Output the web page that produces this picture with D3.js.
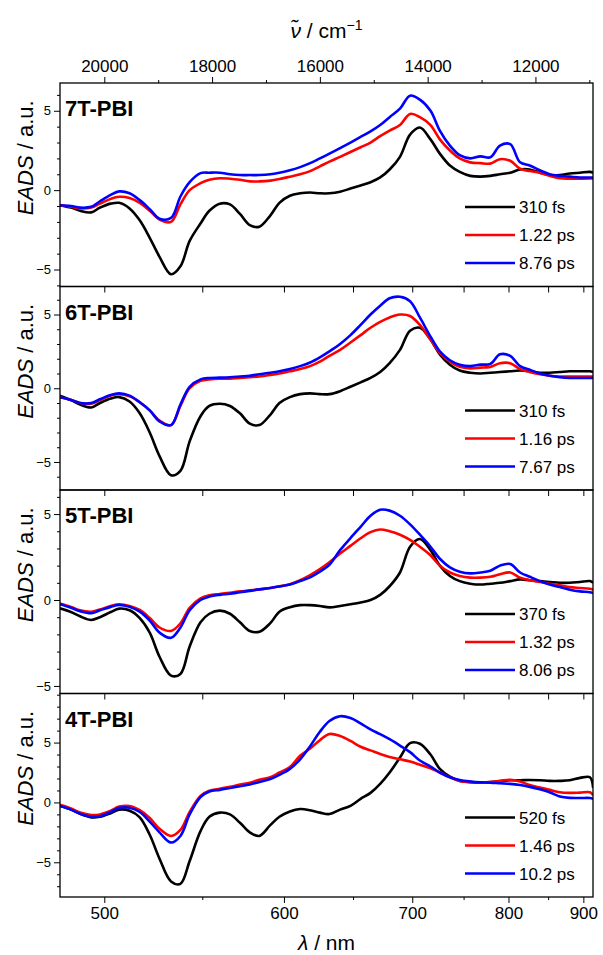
<!DOCTYPE html>
<html>
<head>
<meta charset="utf-8">
<script src="https://cdn.jsdelivr.net/npm/d3@7"></script>
<style>
body { margin: 0; background: #fff; }
text { font-family: "Liberation Sans", Arial, sans-serif; fill: #000; }
</style>
</head>
<body>
<script>
// wavelength grid (nm), shared by all spectra
var wavelength = [480, 485, 489, 494, 498, 503, 507, 512, 517, 522, 527, 533, 538, 543, 549, 554, 560, 566, 572, 578,
  584, 591, 597, 604, 611, 618, 625, 632, 640, 648, 656, 664, 672, 680, 689, 698, 707, 717, 726, 736,
  746, 757, 768, 779, 790, 802, 814, 826, 839, 852, 866, 880, 895, 910, 915];

var panelNames = ["7T-PBI", "6T-PBI", "5T-PBI", "4T-PBI"];
var lifetimes = [
  ["310 fs", "1.22 ps", "8.76 ps"],
  ["310 fs", "1.16 ps", "7.67 ps"],
  ["370 fs", "1.32 ps", "8.06 ps"],
  ["520 fs", "1.46 ps", "10.2 ps"]
];
var yRanges = [[-6.07, 6.75], [-6.9, 6.9], [-5.44, 6.4], [-7.9, 9.1]];

// 7T-PBI
var eads7T_1 = [-0.95, -1.1, -1.3, -1.4, -1.1, -0.85, -0.8, -1.15, -1.9, -3.0, -4.2, -5.3, -4.8, -3.2, -2.1, -1.3, -0.85, -0.9, -1.5, -2.2,
  -2.3, -1.6, -0.8, -0.35, -0.2, -0.15, -0.2, -0.2, -0.1, 0.1, 0.3, 0.5, 0.8, 1.3, 2.1, 3.5, 3.95, 3.2, 2.3, 1.55,
  1.15, 0.9, 0.85, 0.9, 1.0, 1.1, 1.3, 1.3, 1.1, 0.95, 0.95, 1.05, 1.1, 1.15, 1.1];
var eads7T_2 = [-0.95, -1.05, -1.15, -1.1, -0.85, -0.55, -0.42, -0.5, -0.8, -1.3, -1.85, -2.0, -0.9, 0.0, 0.44, 0.65, 0.75, 0.72, 0.65, 0.55,
  0.55, 0.6, 0.7, 0.85, 1.0, 1.2, 1.5, 1.8, 2.1, 2.4, 2.7, 3.0, 3.4, 3.75, 4.1, 4.8, 4.6, 4.1, 3.2, 2.5,
  2.0, 1.75, 1.7, 1.67, 1.95, 1.85, 1.35, 1.2, 1.1, 0.9, 0.75, 0.72, 0.72, 0.73, 0.73];
var eads7T_3 = [-0.95, -1.0, -1.1, -1.05, -0.7, -0.3, -0.08, -0.2, -0.63, -1.2, -1.8, -1.75, -0.4, 0.5, 1.07, 1.1, 1.1, 1.0, 0.95, 0.95,
  0.95, 1.0, 1.1, 1.25, 1.45, 1.7, 2.0, 2.3, 2.65, 3.0, 3.35, 3.7, 4.1, 4.6, 5.13, 5.95, 5.7, 5.0, 3.75, 2.8,
  2.2, 2.0, 2.13, 2.07, 2.8, 2.9, 1.75, 1.55, 1.25, 1.0, 0.9, 0.85, 0.8, 0.8, 0.8];

// 6T-PBI
var eads6T_1 = [-0.5, -0.8, -1.1, -1.3, -1.0, -0.7, -0.6, -0.9, -1.7, -3.0, -4.6, -5.9, -5.6, -3.6, -1.9, -1.2, -1.05, -1.2, -1.7, -2.4,
  -2.5, -1.8, -1.0, -0.6, -0.4, -0.35, -0.4, -0.4, -0.2, 0.1, 0.4, 0.7, 1.1, 1.7, 2.6, 3.9, 4.1, 3.3, 2.3, 1.6,
  1.2, 1.05, 1.0, 1.05, 1.1, 1.15, 1.2, 1.15, 1.05, 1.05, 1.1, 1.15, 1.15, 1.15, 1.1];
var eads6T_2 = [-0.6, -0.8, -1.0, -1.05, -0.8, -0.5, -0.4, -0.55, -0.95, -1.5, -2.2, -2.5, -1.2, 0.0, 0.5, 0.6, 0.65, 0.65, 0.7, 0.75,
  0.8, 0.9, 1.0, 1.15, 1.3, 1.5, 1.8, 2.2, 2.6, 3.1, 3.6, 4.1, 4.5, 4.8, 5.0, 4.9, 4.3, 3.3, 2.4, 1.8,
  1.45, 1.35, 1.4, 1.45, 1.7, 1.7, 1.3, 1.1, 0.95, 0.85, 0.8, 0.8, 0.8, 0.8, 0.8];
var eads6T_3 = [-0.6, -0.8, -1.0, -1.0, -0.75, -0.45, -0.35, -0.5, -0.95, -1.5, -2.25, -2.5, -1.1, 0.1, 0.6, 0.7, 0.72, 0.75, 0.8, 0.85,
  0.95, 1.05, 1.15, 1.3, 1.5, 1.75, 2.1, 2.5, 3.0, 3.6, 4.3, 5.0, 5.6, 6.1, 6.2, 5.9, 4.8, 3.5, 2.5, 1.9,
  1.6, 1.5, 1.6, 1.65, 2.3, 2.2, 1.5, 1.25, 1.0, 0.85, 0.75, 0.7, 0.7, 0.7, 0.7];

// 5T-PBI
var eads5T_1 = [-0.48, -0.7, -0.95, -1.16, -1.0, -0.7, -0.5, -0.6, -1.06, -1.9, -3.3, -4.4, -4.3, -2.7, -1.3, -0.8, -0.62, -0.8, -1.3, -1.8,
  -1.85, -1.35, -0.68, -0.42, -0.3, -0.3, -0.35, -0.43, -0.35, -0.25, -0.14, 0.0, 0.3, 0.8, 1.6, 3.1, 3.55, 2.9, 2.0, 1.4,
  1.1, 0.95, 0.9, 0.95, 1.0, 1.1, 1.2, 1.15, 1.1, 1.05, 1.0, 1.0, 1.05, 1.1, 1.0];
var eads5T_2 = [-0.2, -0.4, -0.6, -0.68, -0.55, -0.35, -0.25, -0.35, -0.58, -1.05, -1.6, -1.8, -1.36, -0.45, 0.1, 0.28, 0.35, 0.42, 0.5, 0.56,
  0.62, 0.7, 0.8, 0.92, 1.15, 1.45, 1.8, 2.2, 2.7, 3.15, 3.59, 3.95, 4.1, 4.0, 3.8, 3.5, 3.1, 2.6, 2.0, 1.6,
  1.4, 1.3, 1.3, 1.35, 1.5, 1.6, 1.3, 1.15, 1.05, 0.95, 0.85, 0.75, 0.7, 0.65, 0.6];
var eads5T_3 = [-0.23, -0.45, -0.65, -0.77, -0.6, -0.4, -0.29, -0.4, -0.68, -1.2, -1.9, -2.2, -1.6, -0.6, 0.0, 0.2, 0.3, 0.36, 0.45, 0.53,
  0.62, 0.7, 0.78, 0.9, 1.1, 1.32, 1.65, 2.05, 2.9, 3.6, 4.26, 4.9, 5.25, 5.2, 4.9, 4.4, 3.8, 3.1, 2.4, 1.9,
  1.65, 1.55, 1.6, 1.7, 2.0, 2.1, 1.6, 1.35, 1.1, 0.9, 0.75, 0.6, 0.5, 0.45, 0.4];

// 4T-PBI
var eads4T_1 = [-0.28, -0.6, -0.95, -1.25, -1.2, -0.9, -0.6, -0.7, -1.25, -2.7, -4.7, -6.6, -6.8, -4.9, -2.4, -1.2, -0.85, -1.0, -1.7, -2.5,
  -2.8, -1.9, -1.2, -0.75, -0.55, -0.65, -0.85, -0.97, -0.6, -0.28, 0.3, 0.8, 1.55, 2.5, 3.75, 4.95, 4.9, 4.0, 2.8, 2.15,
  1.8, 1.7, 1.65, 1.7, 1.75, 1.85, 1.85, 1.87, 1.85, 1.8, 1.8, 1.85, 2.05, 2.1, 1.2];
var eads4T_2 = [-0.19, -0.5, -0.85, -1.05, -1.0, -0.7, -0.35, -0.3, -0.65, -1.3, -2.2, -2.8, -2.3, -0.8, 0.55, 0.97, 1.15, 1.3, 1.5, 1.65,
  1.9, 2.1, 2.5, 2.95, 3.9, 4.5, 5.2, 5.72, 5.55, 5.14, 4.65, 4.35, 4.05, 3.8, 3.6, 3.42, 3.15, 2.85, 2.5, 2.1,
  1.8, 1.7, 1.67, 1.7, 1.8, 1.9, 1.75, 1.45, 1.25, 1.05, 0.85, 0.8, 0.82, 0.85, 0.6];
var eads4T_3 = [-0.28, -0.6, -0.95, -1.2, -1.15, -0.8, -0.45, -0.45, -0.8, -1.6, -2.5, -3.35, -2.8, -1.0, 0.45, 0.92, 1.05, 1.2, 1.35, 1.5,
  1.7, 1.95, 2.3, 2.8, 3.6, 4.7, 5.9, 6.8, 7.2, 7.05, 6.6, 6.1, 5.7, 5.28, 4.75, 4.2, 3.5, 3.0, 2.5, 2.1,
  1.87, 1.75, 1.68, 1.65, 1.6, 1.55, 1.45, 1.3, 1.1, 0.85, 0.5, 0.38, 0.37, 0.37, 0.3];

var panelSeries = [
  [eads7T_1, eads7T_2, eads7T_3],
  [eads6T_1, eads6T_2, eads6T_3],
  [eads5T_1, eads5T_2, eads5T_3],
  [eads4T_1, eads4T_2, eads4T_3]
];
var colors = ["#000000", "#ff0000", "#0000ff"];

var nmMajor = [500, 600, 700, 800, 900];
var nmMinor = [550, 650, 750, 850];
var wnMajor = [20000, 18000, 16000, 14000, 12000];
var wnMinor = [19000, 17000, 15000, 13000, 11000];

const WIDTH = 603, HEIGHT = 955;
const LEFT = 60, RIGHT = 593, TOP = 83, PANEL_H = 203.5;

var svg = d3.select("body").append("svg")
  .attr("width", WIDTH)
  .attr("height", HEIGHT);

// x axis is linear in wavenumber
var x = d3.scaleLinear().domain([20822, 10932]).range([LEFT, RIGHT]);

panelNames.forEach(function (name, p) {
  var y0 = TOP + p * PANEL_H;
  var y = d3.scaleLinear().domain(yRanges[p]).range([y0 + PANEL_H, y0]);
  var g = svg.append("g");

  g.append("clipPath").attr("id", "clip" + p)
    .append("rect").attr("x", LEFT).attr("y", y0).attr("width", RIGHT - LEFT).attr("height", PANEL_H);

  var line = d3.line()
    .x(function (d, i) { return x(1e7 / wavelength[i]); })
    .y(function (d) { return y(d); })
    .curve(d3.curveCatmullRom.alpha(0.5));

  g.append("g").attr("clip-path", "url(#clip" + p + ")")
    .selectAll("path")
    .data(panelSeries[p])
    .enter()
    .append("path")
    .attr("d", line)
    .attr("fill", "none")
    .attr("stroke", function (d, i) { return colors[i]; })
    .attr("stroke-width", 2.6)
    .attr("stroke-linejoin", "round");

  // y axis, major + minor
  var minor = d3.range(Math.ceil(yRanges[p][0]), Math.floor(yRanges[p][1]) + 1).filter(function (v) { return v % 5 !== 0; });
  g.append("g").attr("transform", "translate(" + LEFT + ",0)")
    .call(d3.axisLeft(y).tickValues(minor).tickSize(3).tickFormat(""))
    .call(function (a) { a.select(".domain").remove(); });
  g.append("g").attr("transform", "translate(" + LEFT + ",0)")
    .call(d3.axisLeft(y).tickValues([-5, 0, 5]).tickSize(6).tickPadding(3).tickFormat(d3.format("d")))
    .call(function (a) {
      a.select(".domain").remove();
      a.selectAll("text").attr("font-size", 13).attr("font-family", "Liberation Sans, Arial, sans-serif");
    });

  // ticks at the top border of lower panels
  if (p > 0) {
    g.append("g").attr("transform", "translate(0," + y0 + ")")
      .call(d3.axisBottom(x).tickValues(nmMajor.concat(nmMinor).map(function (l) { return 1e7 / l; })).tickSize(-6).tickFormat(""))
      .call(function (a) { a.select(".domain").remove(); a.selectAll("line").attr("y2", 6); });
  }

  // frame
  g.append("rect")
    .attr("x", LEFT).attr("y", y0).attr("width", RIGHT - LEFT).attr("height", PANEL_H)
    .attr("fill", "none").attr("stroke", "#000").attr("stroke-width", 1.3);

  // panel title
  g.append("text").attr("x", 65).attr("y", y0 + 33)
    .attr("font-size", 22).attr("font-weight", "bold").text(name);

  // y label
  var yl = g.append("text")
    .attr("transform", "translate(33," + (y0 + PANEL_H / 2 - 27) + ") rotate(-90)")
    .attr("text-anchor", "middle").attr("font-size", 22);
  yl.append("tspan").attr("font-style", "italic").text("EADS");
  yl.append("tspan").text(" / a.u.");

  // legend
  lifetimes[p].forEach(function (lab, i) {
    var ly = y0 + 124 + i * 28;
    g.append("line").attr("x1", 465).attr("x2", 515).attr("y1", ly).attr("y2", ly)
      .attr("stroke", colors[i]).attr("stroke-width", 2.6);
    g.append("text").attr("x", 519).attr("y", ly + 6).attr("font-size", 17).text(lab);
  });
});

var bottom = TOP + 4 * PANEL_H;

// bottom axis in nm
svg.append("g").attr("transform", "translate(0," + bottom + ")")
  .call(d3.axisBottom(x).tickValues(nmMinor.map(function (l) { return 1e7 / l; })).tickSize(3).tickFormat(""))
  .call(function (a) { a.select(".domain").remove(); });
svg.append("g").attr("transform", "translate(0," + bottom + ")")
  .call(d3.axisBottom(x).tickValues(nmMajor.map(function (l) { return 1e7 / l; })).tickSize(6).tickPadding(4)
    .tickFormat(function (v) { return Math.round(1e7 / v); }))
  .call(function (a) {
    a.select(".domain").remove();
    a.selectAll("text").attr("font-size", 17).attr("font-family", "Liberation Sans, Arial, sans-serif");
  });

// top axis in wavenumber
svg.append("g").attr("transform", "translate(0," + TOP + ")")
  .call(d3.axisTop(x).tickValues(wnMinor).tickSize(3).tickFormat(""))
  .call(function (a) { a.select(".domain").remove(); });
svg.append("g").attr("transform", "translate(0," + TOP + ")")
  .call(d3.axisTop(x).tickValues(wnMajor).tickSize(6).tickPadding(5).tickFormat(d3.format("d")))
  .call(function (a) {
    a.select(".domain").remove();
    a.selectAll("text").attr("font-size", 17).attr("font-family", "Liberation Sans, Arial, sans-serif");
  });

// axis titles
var xt = svg.append("text").attr("x", (LEFT + RIGHT) / 2).attr("y", 950)
  .attr("text-anchor", "middle").attr("font-size", 21);
xt.append("tspan").attr("font-style", "italic").text("λ");
xt.append("tspan").text(" / nm");

var tt = svg.append("text").attr("x", (LEFT + RIGHT) / 2).attr("y", 38)
  .attr("text-anchor", "middle").attr("font-size", 21);
tt.append("tspan").attr("font-style", "italic").text("ν\u0303");
tt.append("tspan").text(" / cm");
tt.append("tspan").attr("font-size", 14).attr("dy", -8).text("\u22121");
</script>
</body>
</html>
